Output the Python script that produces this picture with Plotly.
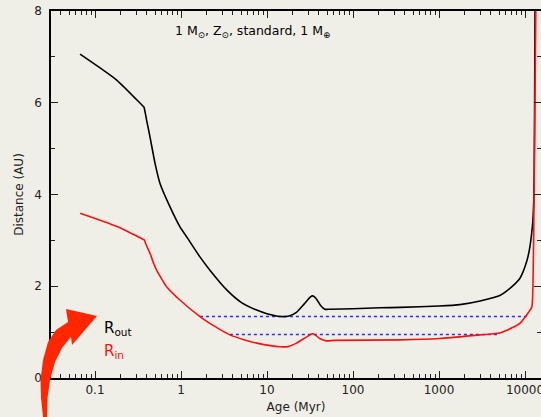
import plotly.graph_objects as go

# ---------------- data ----------------
age_out = [0.067, 0.18, 0.36, 0.37, 0.40, 0.4325, 0.499, 0.57, 0.745, 0.97, 1.18, 1.66, 2.17,
           3.4, 5.0, 7.6, 10.0, 14.2, 18, 22, 27, 32, 34, 37, 42, 47, 54, 100,
           206, 354, 1000, 1750, 3000, 5100, 6150, 8700, 10500, 11400, 12300, 12700, 12900, 13100]
r_out = [7.06, 6.49, 5.93, 5.91, 5.60, 5.29, 4.68, 4.24, 3.73, 3.30, 3.06, 2.64, 2.35,
         1.92, 1.65, 1.48, 1.40, 1.34, 1.35, 1.43, 1.61, 1.77, 1.79, 1.74, 1.58, 1.50, 1.50, 1.51,
         1.53, 1.54, 1.57, 1.60, 1.68, 1.80, 1.90, 2.17, 2.55, 2.86, 3.40, 4.00, 5.5, 8.3]

age_in = [0.067, 0.18, 0.364, 0.374, 0.39, 0.436, 0.48, 0.52, 0.6, 0.68, 0.97, 1.66, 2.5, 3.7, 5.5,
          7.6, 14.2, 18, 22, 28, 33, 35, 41, 49, 60, 354, 1020, 3000, 5100, 6150,
          8700, 10500, 12000, 12300, 12600, 13400]
r_in = [3.59, 3.30, 3.02, 3.01, 2.92, 2.72, 2.50, 2.35, 2.15, 1.99, 1.70, 1.34, 1.12, 0.94, 0.83,
        0.76, 0.68, 0.69, 0.76, 0.88, 0.96, 0.96, 0.86, 0.81, 0.82, 0.83, 0.86, 0.94, 0.98, 1.04,
        1.19, 1.38, 1.55, 1.85, 3.0, 8.3]

hz_levels = [1.34, 0.95]
hz_start = [1.66, 3.7]
hz_end = [10500, 4900]

x_tickvals = [0.1, 1, 10, 100, 1000, 10000]
x_ticktext = ["0.1", "1", "10", "100", "1000", "10000"]
y_tickvals = [0, 2, 4, 6, 8]
y_ticktext = ["0", "2", "4", "6", "8"]

title_text = "1 M<sub>⊙</sub>, Z<sub>⊙</sub>, standard, 1 M<sub>⊕</sub>"
label_out = "R<sub>out</sub>"
label_in = "R<sub>in</sub>"

# ---------------- figure ----------------
W, H = 541, 417
ML, MR, MT, MB = 51, 0, 11, 39
BG = "#f0efe7"
FONT = "DejaVu Sans"

fig = go.Figure()

for lvl, x0, x1 in zip(hz_levels, hz_start, hz_end):
    fig.add_trace(go.Scatter(x=[x0, x1], y=[lvl, lvl], mode="lines",
                             line=dict(color="#2a2aff", width=1.5, dash="dot"),
                             showlegend=False, hoverinfo="skip"))

fig.add_trace(go.Scatter(x=age_out, y=r_out, mode="lines",
                         line=dict(color="black", width=1.6, shape="spline", smoothing=0.6),
                         showlegend=False))
fig.add_trace(go.Scatter(x=age_in, y=r_in, mode="lines",
                         line=dict(color="#ff1010", width=1.6, shape="spline", smoothing=0.6),
                         showlegend=False))

# decorative curved arrow (pixel outline -> paper coordinates)
pw, ph = W - ML - MR, H - MT - MB
def px(p):
    return ((p[0] - ML) / pw, (H - MB - p[1]) / ph)

arrow_px = [(68, 322), (66, 309), (97, 316), (72, 345), (71, 337),
            (62, 348), (55, 362), (50, 380), (47.5, 398), (47, 417),
            (43, 417), (41, 398), (40.5, 380), (43, 360), (48, 342), (56, 330)]
pts = [px(p) for p in arrow_px]
path = "M " + " L ".join(f"{x:.4f},{y:.4f}" for x, y in pts) + " Z"
fig.add_shape(type="path", path=path, xref="paper", yref="paper",
              fillcolor="#ff2600", line=dict(width=0), layer="above")

fig.add_annotation(text=title_text, xref="paper", yref="paper", x=(252 - ML) / pw, y=0.945,
                   xanchor="center", yanchor="middle", showarrow=False,
                   font=dict(family=FONT, size=12.5, color="black"))
fig.add_annotation(text=label_out, xref="paper", yref="paper",
                   x=(102 - ML) / pw, y=(H - MB - 328) / ph, xanchor="left", yanchor="middle",
                   showarrow=False, font=dict(family=FONT, size=15, color="black"))
fig.add_annotation(text=label_in, xref="paper", yref="paper",
                   x=(102 - ML) / pw, y=(H - MB - 351) / ph, xanchor="left", yanchor="middle",
                   showarrow=False, font=dict(family=FONT, size=15, color="#ff1010"))

decade = 86.0
xl = (ML - 181) / decade
xr = xl + pw / decade

axis_common = dict(showline=True, linecolor="black", linewidth=1.5, mirror="ticks",
                   ticks="inside", tickcolor="#222", tickwidth=1.2, ticklen=7,
                   showgrid=False, zeroline=False, automargin=False,
                   ticklabeloverflow="allow",
                   tickfont=dict(family=FONT, size=12, color="#222"))

fig.update_xaxes(type="log", range=[xl, xr], tickvals=x_tickvals, ticktext=x_ticktext,
                 minor=dict(ticks="inside", ticklen=4, tickwidth=1, tickcolor="#222",
                            dtick="D1", showgrid=False),
                 title=dict(text="Age (Myr)", standoff=6,
                            font=dict(family=FONT, size=12, color="#222")),
                 **axis_common)
fig.update_yaxes(range=[0, 8], tickvals=y_tickvals, ticktext=y_ticktext,
                 ticklabelstandoff=5,
                 minor=dict(ticks="inside", ticklen=4, tickwidth=1, tickcolor="#222",
                            dtick=1, showgrid=False),
                 title=dict(text="Distance (AU)", standoff=8,
                            font=dict(family=FONT, size=12, color="#222")),
                 **axis_common)

fig.update_layout(width=W, height=H, margin=dict(l=ML, r=MR, t=MT, b=MB, pad=0),
                  paper_bgcolor=BG, plot_bgcolor=BG, showlegend=False,
                  font=dict(family=FONT, size=12, color="#222"))

fig.write_html("out.html")
